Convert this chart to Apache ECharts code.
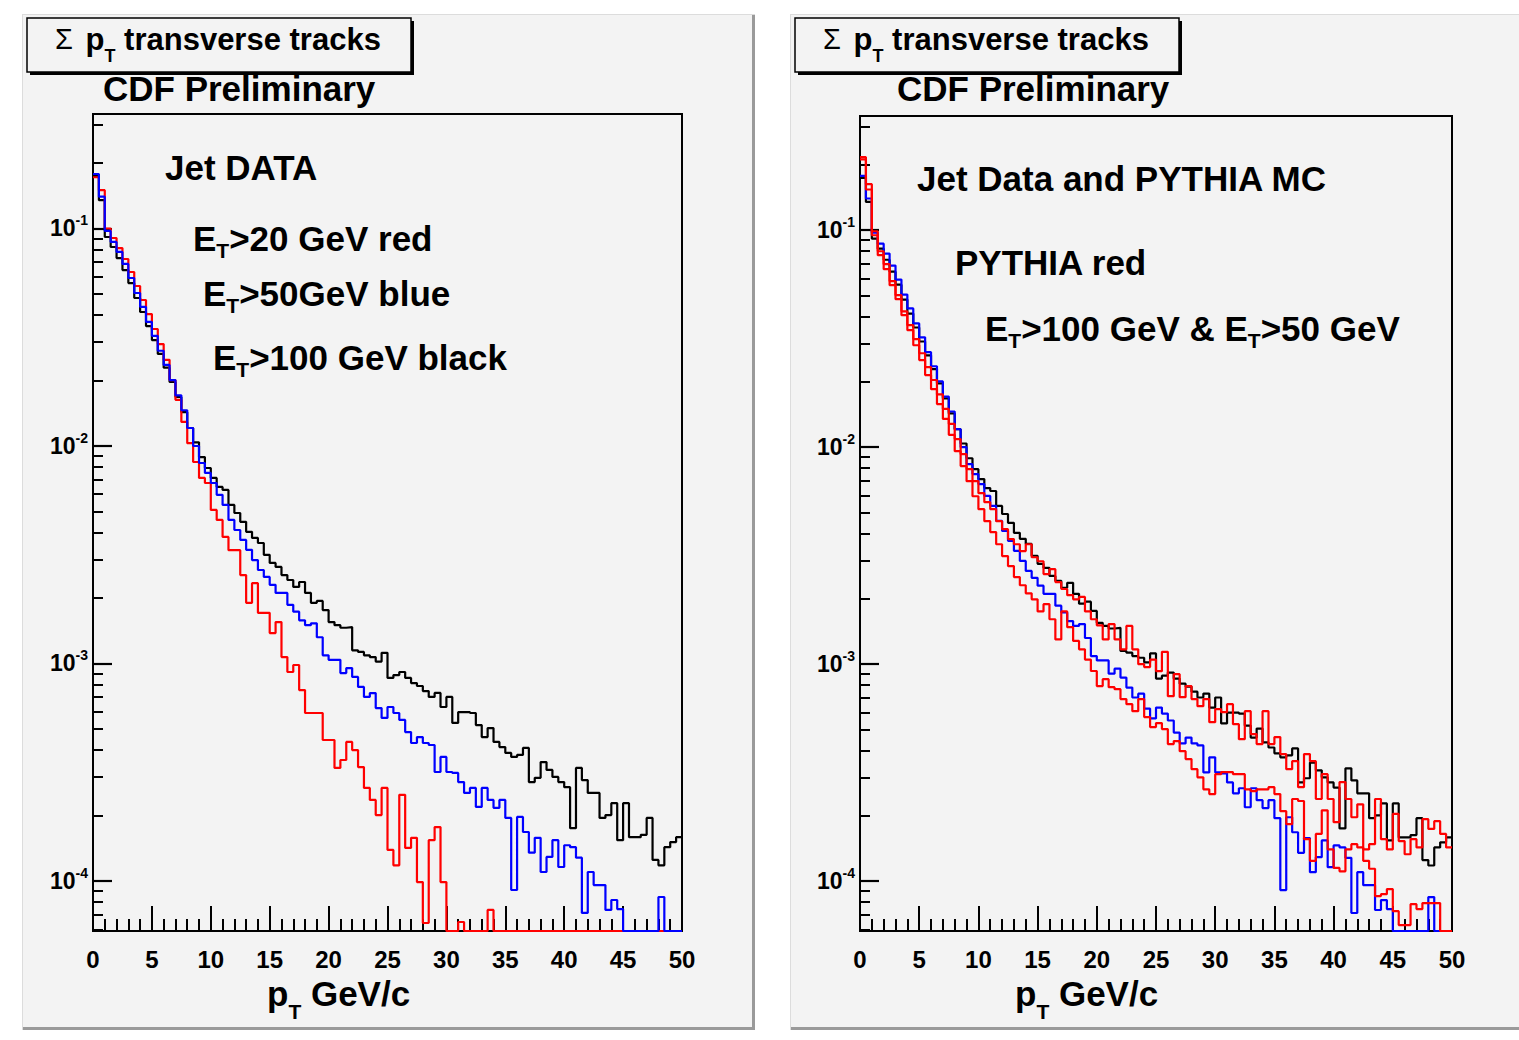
<!DOCTYPE html>
<html>
<head>
<meta charset="utf-8">
<script src="https://cdn.jsdelivr.net/npm/echarts@6/dist/echarts.min.js"></script>
<style>
html,body{margin:0;padding:0;background:#fff;}
#c{width:1519px;height:1040px;}
</style>
</head>
<body>
<div id="c"></div>
<script>
// ---------- data ----------
// lower edges of the 0.5 GeV/c bins
const binEdges = [0,0.5,1,1.5,2,2.5,3,3.5,4,4.5,5,5.5,6,6.5,7,7.5,8,8.5,9,9.5,
  10,10.5,11,11.5,12,12.5,13,13.5,14,14.5,15,15.5,16,16.5,17,17.5,18,18.5,19,19.5,
  20,20.5,21,21.5,22,22.5,23,23.5,24,24.5,25,25.5,26,26.5,27,27.5,28,28.5,29,29.5,
  30,30.5,31,31.5,32,32.5,33,33.5,34,34.5,35,35.5,36,36.5,37,37.5,38,38.5,39,39.5,
  40,40.5,41,41.5,42,42.5,43,43.5,44,44.5,45,45.5,46,46.5,47,47.5,48,48.5,49,49.5];
const xMax = 50;

// Jet data, ET > 100 GeV (black)
const dataET100 = [0.174,0.135,0.0914,0.0822,0.0731,0.0644,0.0561,0.0479,0.0413,0.0356,
  0.0307,0.0265,0.0229,0.0197,0.0168,0.0143,0.0121,0.0104,0.00889,0.00792,
  0.00713,0.00648,0.00628,0.00536,0.00492,0.00448,0.00403,0.00378,0.00358,0.00316,
  0.00290,0.00278,0.00255,0.00242,0.00225,0.00237,0.00211,0.00190,0.00194,0.00176,
  0.00155,0.00150,0.00146,0.00147,0.00115,0.00113,0.00109,0.00107,0.00102,0.00112,
  8.58e-4,8.85e-4,9.14e-4,8.58e-4,8.13e-4,7.88e-4,7.47e-4,7.02e-4,7.32e-4,6.31e-4,
  7.02e-4,5.33e-4,5.98e-4,5.98e-4,5.92e-4,5.21e-4,4.59e-4,5.05e-4,4.36e-4,4.13e-4,
  3.88e-4,3.72e-4,3.80e-4,4.09e-4,2.85e-4,2.98e-4,3.52e-4,3.24e-4,3.01e-4,2.85e-4,
  2.70e-4,1.75e-4,3.31e-4,2.91e-4,2.54e-4,2.54e-4,1.95e-4,2.01e-4,2.28e-4,1.54e-4,
  2.28e-4,1.59e-4,1.59e-4,1.63e-4,1.95e-4,1.25e-4,1.18e-4,1.43e-4,1.51e-4,1.59e-4];

// Jet data, ET > 50 GeV (blue)
const dataET50 = [0.178,0.140,0.0974,0.0867,0.0780,0.0687,0.0592,0.0505,0.0436,0.0372,
  0.0321,0.0274,0.0236,0.0201,0.0171,0.0146,0.0121,0.0100,0.00835,0.00752,
  0.00676,0.00596,0.00536,0.00457,0.00411,0.00370,0.00333,0.00299,0.00269,0.00250,
  0.00230,0.00211,0.00211,0.00186,0.00173,0.00158,0.00150,0.00153,0.00132,0.00109,
  0.00104,0.00104,9.04e-4,9.53e-4,8.67e-4,7.80e-4,7.02e-4,7.31e-4,6.24e-4,5.62e-4,
  6.31e-4,5.92e-4,5.50e-4,4.84e-4,4.31e-4,4.59e-4,4.31e-4,4.22e-4,3.17e-4,3.72e-4,
  3.17e-4,3.14e-4,2.85e-4,2.54e-4,2.68e-4,2.19e-4,2.68e-4,2.36e-4,2.17e-4,2.36e-4,
  1.95e-4,9.09e-5,1.97e-4,1.68e-4,1.35e-4,1.58e-4,1.10e-4,1.29e-4,1.54e-4,1.16e-4,
  1.46e-4,1.43e-4,1.28e-4,7.13e-5,1.10e-4,9.58e-5,9.58e-5,7.36e-5,8.18e-5,7.43e-5,
  0,0,0,0,0,0,8.44e-5,0,0,0];

// Jet data, ET > 20 GeV (red, left panel)
const dataET20 = [0.172,0.150,0.100,0.0904,0.0813,0.0724,0.0631,0.0544,0.0469,0.0404,
  0.0345,0.0294,0.0249,0.0201,0.0163,0.0129,0.0103,0.00844,0.00713,0.00676,
  0.00508,0.00457,0.00382,0.00332,0.00332,0.00255,0.00190,0.00234,0.00171,0.00171,
  0.00138,0.00155,0.00107,9.14e-4,9.84e-4,7.55e-4,5.92e-4,5.92e-4,5.92e-4,4.45e-4,
  4.45e-4,3.31e-4,3.60e-4,4.36e-4,4.00e-4,3.34e-4,2.68e-4,2.36e-4,2.01e-4,2.68e-4,
  1.39e-4,1.18e-4,2.49e-4,1.42e-4,1.58e-4,9.89e-5,6.41e-5,1.54e-4,1.77e-4,9.89e-5,
  0,0,6.48e-5,0,0,0,0,7.36e-5,0,0,
  0,0,0,0,0,0,0,0,0,0,
  0,0,0,0,0,0,0,0,0,0,
  0,0,0,0,0,0,0,0,0,0];

// PYTHIA MC, ET > 100 GeV (red, right panel, upper)
const pythiaET100 = [0.217,0.163,0.0989,0.0800,0.0697,0.0582,0.0502,0.0423,0.0365,0.0315,
  0.0271,0.0234,0.0204,0.0175,0.0150,0.0128,0.0109,0.00928,0.00792,0.00697,
  0.00614,0.00558,0.00518,0.00456,0.00419,0.00377,0.00357,0.00332,0.00357,0.00311,
  0.00298,0.00260,0.00274,0.00239,0.00222,0.00208,0.00199,0.00204,0.00175,0.00161,
  0.00151,0.00130,0.00153,0.00130,0.00117,0.00150,0.00117,0.00100,9.69e-4,0.00105,
  9.28e-4,0.00114,7.12e-4,8.99e-4,7.04e-4,7.92e-4,6.90e-4,6.40e-4,6.90e-4,5.40e-4,
  6.20e-4,6.01e-4,6.54e-4,5.29e-4,4.51e-4,6.07e-4,4.76e-4,4.28e-4,6.07e-4,4.28e-4,
  4.61e-4,3.85e-4,3.28e-4,3.57e-4,2.71e-4,3.85e-4,3.57e-4,2.39e-4,3.11e-4,2.39e-4,
  1.87e-4,2.86e-4,2.39e-4,1.97e-4,2.26e-4,1.40e-4,1.48e-4,2.39e-4,1.56e-4,1.40e-4,
  2.04e-4,1.53e-4,1.33e-4,1.56e-4,1.43e-4,1.93e-4,1.74e-4,1.89e-4,1.65e-4,1.43e-4];

// PYTHIA MC, ET > 50 GeV (red, right panel, lower)
const pythiaET50 = [0.212,0.154,0.0948,0.0767,0.0661,0.0558,0.0481,0.0406,0.0346,0.0295,
  0.0252,0.0215,0.0185,0.0158,0.0135,0.0114,0.00958,0.00818,0.00697,0.00594,
  0.00518,0.00456,0.00406,0.00357,0.00315,0.00283,0.00252,0.00231,0.00212,0.00199,
  0.00175,0.00189,0.00161,0.00130,0.00175,0.00148,0.00128,0.00117,0.00105,9.30e-4,
  7.92e-4,8.53e-4,7.83e-4,7.67e-4,6.90e-4,6.54e-4,6.07e-4,6.90e-4,5.70e-4,5.13e-4,
  5.35e-4,5.02e-4,4.28e-4,4.42e-4,3.97e-4,3.65e-4,3.28e-4,3.01e-4,2.65e-4,2.52e-4,
  3.11e-4,3.18e-4,3.18e-4,3.11e-4,3.11e-4,2.65e-4,2.60e-4,2.65e-4,2.65e-4,2.71e-4,
  2.52e-4,2.10e-4,1.83e-4,2.39e-4,2.34e-4,1.56e-4,1.24e-4,1.65e-4,2.12e-4,1.40e-4,
  1.15e-4,1.11e-4,1.40e-4,1.48e-4,1.43e-4,1.24e-4,1.14e-4,8.53e-5,8.71e-5,9.19e-5,
  7.27e-5,6.27e-5,6.27e-5,7.83e-5,7.43e-5,7.92e-5,7.92e-5,7.92e-5,0,0];

// axis ticks / labels
const xTickLabels = [0,5,10,15,20,25,30,35,40,45,50];
const yMajorTicks = [1e-4,1e-3,1e-2,1e-1];
const yMinorTicks = [6e-5,7e-5,8e-5,9e-5,
  2e-4,3e-4,4e-4,5e-4,6e-4,7e-4,8e-4,9e-4,
  2e-3,3e-3,4e-3,5e-3,6e-3,7e-3,8e-3,9e-3,
  2e-2,3e-2,4e-2,5e-2,6e-2,7e-2,8e-2,9e-2,
  2e-1,3e-1];
const yRange = [5.89e-5, 0.336];

// ---------- chart ----------
const FONT = '"Liberation Sans", Arial, Helvetica, sans-serif';
const chart = echarts.init(document.getElementById('c'), null, {renderer:'svg', width:1519, height:1040});

function hist(vals){
  const floor = yRange[0];
  const d = binEdges.map((x,i)=>[x, vals[i] > 0 ? vals[i] : floor]);
  const last = vals[vals.length-1];
  d.push([xMax, last > 0 ? last : floor]);
  return d;
}

function xAx(gi){
  return {
    type:'value', gridIndex:gi, min:xTickLabels[0], max:xTickLabels[xTickLabels.length-1], interval:5,
    axisLine:{show:false, onZero:false},
    splitLine:{show:false},
    axisTick:{show:true, inside:true, length:25, lineStyle:{color:'#000', width:2}},
    minorTick:{show:true, splitNumber:5, length:12, lineStyle:{color:'#000', width:2}},
    axisLabel:{show:true, color:'#000', fontSize:24, fontWeight:'bold', fontFamily:FONT, margin:16}
  };
}
function yMajor(gi){
  return {
    type:'log', logBase:10, gridIndex:gi, min:yRange[0], max:yRange[1], position:'left',
    axisLine:{show:false}, splitLine:{show:false},
    minorTick:{show:false}, minorSplitLine:{show:false},
    axisTick:{show:true, inside:true, length:19, customValues:yMajorTicks, lineStyle:{color:'#000', width:2.2}},
    axisLabel:{show:true, customValues:yMajorTicks, margin:5,
      formatter:function(v){ return '{b|10}{s|' + Math.round(Math.log10(v)) + '}'; },
      rich:{
        b:{fontSize:23, fontWeight:'bold', fontFamily:FONT, color:'#000', lineHeight:30},
        s:{fontSize:14, fontWeight:'bold', fontFamily:FONT, color:'#000', lineHeight:14, verticalAlign:'top'}
      }
    }
  };
}
function yMinor(gi){
  return {
    type:'log', logBase:10, gridIndex:gi, min:yRange[0], max:yRange[1], position:'left', offset:0,
    axisLine:{show:false}, splitLine:{show:false},
    minorTick:{show:false}, minorSplitLine:{show:false},
    axisTick:{show:true, inside:true, length:10, customValues:yMinorTicks, lineStyle:{color:'#000', width:2}},
    axisLabel:{show:false}
  };
}
function histSeries(name, vals, color, xi, yi){
  return {
    name:name, type:'line', step:'end', data:hist(vals), xAxisIndex:xi, yAxisIndex:yi,
    showSymbol:false, symbol:'none', clip:true, silent:true,
    lineStyle:{color:color, width:2.2}, itemStyle:{color:color}
  };
}

const bg = '#f3f3f3';
const richMain = {
  m:{fontSize:35, fontWeight:'bold', fontFamily:FONT, fill:'#000', lineHeight:46},
  s:{fontSize:21, fontWeight:'bold', fontFamily:FONT, fill:'#000', lineHeight:20, verticalAlign:'bottom'}
};
const richTitle = {
  m:{fontSize:35, fontWeight:'bold', fontFamily:FONT, fill:'#000', lineHeight:58},
  s:{fontSize:21, fontWeight:'bold', fontFamily:FONT, fill:'#000', lineHeight:20, verticalAlign:'bottom'}
};
const richBox = {
  g:{fontSize:29, fontWeight:'normal', fontFamily:FONT, fill:'#000', lineHeight:52},
  p:{fontSize:31, fontWeight:'bold', fontFamily:FONT, fill:'#000', lineHeight:52, padding:[0,0,0,4]},
  m:{fontSize:31, fontWeight:'bold', fontFamily:FONT, fill:'#000', lineHeight:52},
  s:{fontSize:18, fontWeight:'bold', fontFamily:FONT, fill:'#000', lineHeight:16, verticalAlign:'bottom'}
};
function txt(x, y, text, rich){
  return {type:'text', x:x, y:y, z:100, silent:true,
    style:{text:text, rich:rich || richMain, align:'left', verticalAlign:'middle'}};
}
function panel(x, w){
  return [
    {type:'rect', z:-20, silent:true, shape:{x:x, y:14, width:w, height:1016}, style:{fill:'#dcdcdc'}},
    {type:'rect', z:-19, silent:true, shape:{x:x+1, y:15, width:w-4, height:1012}, style:{fill:bg}},
    {type:'rect', z:-18, silent:true, shape:{x:x+w-3, y:15, width:3, height:1015}, style:{fill:'#9a9a9a'}},
    {type:'rect', z:-18, silent:true, shape:{x:x+1, y:1027, width:w-1, height:3}, style:{fill:'#9a9a9a'}}
  ];
}
function box(x){
  return [
    {type:'rect', z:50, silent:true, shape:{x:x+3, y:21, width:384, height:54}, style:{fill:'#000'}},
    {type:'rect', z:51, silent:true, shape:{x:x, y:18, width:384, height:54}, style:{fill:bg, stroke:'#000', lineWidth:1.5}},
    txt(x+28, 39, '{g|Σ}{p| p}{s|T}{m| transverse tracks}', richBox)
  ];
}

const option = {
  animation:false,
  backgroundColor:'#ffffff',
  grid:[
    {left:93, top:114, width:589, height:817, show:true, borderColor:'#000', borderWidth:2, backgroundColor:'transparent', containLabel:false},
    {left:860, top:116, width:592, height:815, show:true, borderColor:'#000', borderWidth:2, backgroundColor:'transparent', containLabel:false}
  ],
  xAxis:[xAx(0), xAx(1)],
  yAxis:[yMajor(0), yMinor(0), yMajor(1), yMinor(1)],
  series:[
    histSeries('Jet DATA ET>100 GeV', dataET100, '#000000', 0, 0),
    histSeries('Jet DATA ET>20 GeV', dataET20, '#ff0000', 0, 0),
    histSeries('Jet DATA ET>50 GeV', dataET50, '#0000ff', 0, 0),
    histSeries('Jet Data ET>100 GeV', dataET100, '#000000', 1, 2),
    histSeries('Jet Data ET>50 GeV', dataET50, '#0000ff', 1, 2),
    histSeries('PYTHIA ET>100 GeV', pythiaET100, '#ff0000', 1, 2),
    histSeries('PYTHIA ET>50 GeV', pythiaET50, '#ff0000', 1, 2)
  ],
  graphic:{elements:[].concat(
    panel(22, 733),
    panel(790, 732),
    box(27),
    box(795),
    [
      txt(103, 88, '{m|CDF Preliminary}'),
      txt(165, 167, '{m|Jet DATA}'),
      txt(193, 238, '{m|E}{s|T}{m|>20 GeV red}'),
      txt(203, 293, '{m|E}{s|T}{m|>50GeV blue}'),
      txt(213, 357, '{m|E}{s|T}{m|>100 GeV black}'),
      txt(267, 993, '{m|p}{s|T}{m| GeV/c}', richTitle),
      txt(897, 88, '{m|CDF Preliminary}'),
      txt(917, 178, '{m|Jet Data and PYTHIA MC}'),
      txt(955, 262, '{m|PYTHIA red}'),
      txt(985, 328, '{m|E}{s|T}{m|>100 GeV & E}{s|T}{m|>50 GeV}'),
      txt(1015, 993, '{m|p}{s|T}{m| GeV/c}', richTitle)
    ]
  )}
};
chart.setOption(option);
</script>
</body>
</html>
